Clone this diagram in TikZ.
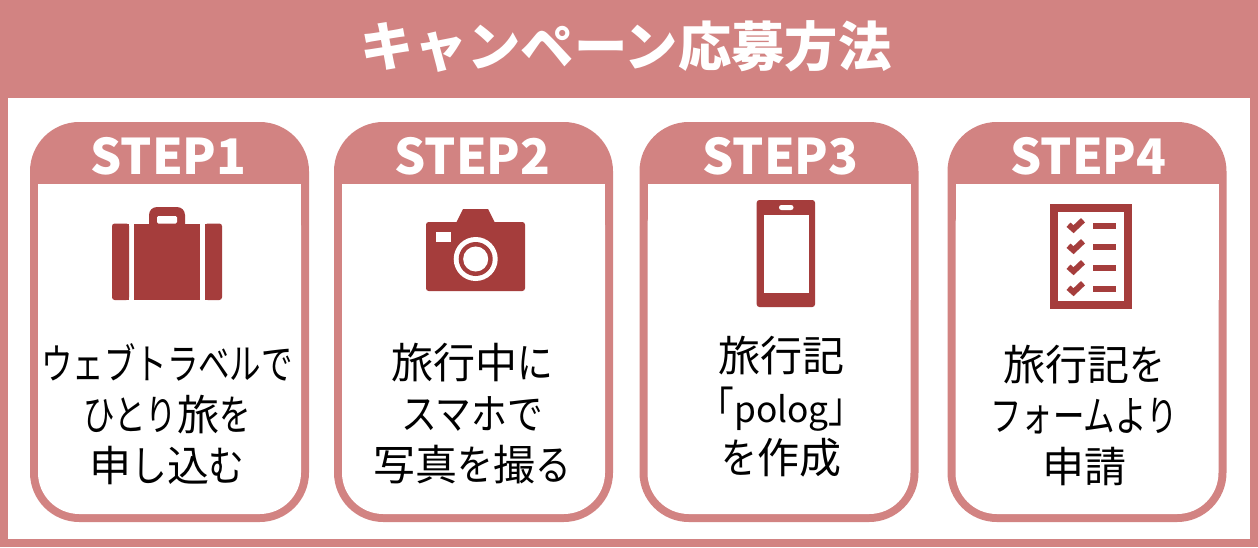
\documentclass[tikz,border=0pt]{standalone}
\usepackage{fontspec}
\setmainfont{Noto Sans CJK JP}
\newfontfamily\narrowkana[FakeStretch=0.75]{Noto Sans CJK JP}
\newfontfamily\midkana[FakeStretch=0.85]{Noto Sans CJK JP}
\newcommand{\kna}[1]{{\narrowkana #1}}
\newcommand{\knb}[1]{{\midkana #1}}
\definecolor{rosecol}{RGB}{210,131,130}
\definecolor{darkcol}{RGB}{165,61,60}
\tikzset{
  cardbox/.style={fill=rosecol,rounded corners=37pt,minimum width=209.25pt,minimum height=300pt,inner sep=0pt},
  headtext/.style={inner sep=0pt,text=white,font=\fontsize{36.8}{40}\selectfont\bfseries},
  steptext/.style={align=center,inner sep=0pt,font=\fontsize{31.5}{38.25}\selectfont},
  icon/.style={fill=darkcol}
}
\begin{document}
\begin{tikzpicture}[x=0.75pt,y=-0.75pt]
\useasboundingbox (0,0) rectangle (1258,547);
% frame and title
\fill[rosecol] (0,0) rectangle (1258,547);
\fill[white] (8,98) rectangle (1250,539);
\node[text=white,inner sep=0pt,font=\fontsize{40}{44}\selectfont\bfseries] (title) at (626,46) {キャンペーン応募方法};
% cards
\foreach \n/\x/\hx/\lab in {1/169.5/168.5/STEP1,2/473.5/472.5/STEP2,3/779/780.5/STEP3,4/1087/1088.5/STEP4}{
  \node[cardbox] (card\n) at (\x,322) {};
  \fill[white,rounded corners=31pt] (\x-131.5,184) rectangle (\x+131.5,514);
  \fill[white] (\x-131.5,184) rectangle (\x+131.5,300);
  \node[headtext] (head\n) at (\hx,156) {\lab};
}
% suitcase
\fill[icon,rounded corners=2pt] (112,223.5) rectangle (129,300);
\fill[icon,rounded corners=2pt] (205,223.5) rectangle (222,300);
\fill[icon] (120,223.5) rectangle (129,300);
\fill[icon] (205,223.5) rectangle (214,300);
\fill[icon] (134,223.5) rectangle (200,300);
\fill[icon,rounded corners=6pt] (149,235) -- (149,207) -- (185,207) -- (185,235) -- cycle;
\fill[white,rounded corners=1pt] (157,216) rectangle (177,223.5);
% camera
\fill[icon,rounded corners=2pt] (426,222) rectangle (525,291);
\fill[icon] (456,223) -- (463,209) -- (488,209) -- (495,223) -- cycle;
\fill[white] (436,232) rectangle (451,242);
\fill[white] (475.7,259) circle (16.5pt);
\fill[icon] (475.7,259) circle (12.75pt);
\fill[white] (475.7,259) circle (9.4pt);
% phone
\fill[icon,rounded corners=2pt] (756.7,200) rectangle (815,307);
\fill[white] (764,214.5) rectangle (808.5,292.5);
\fill[white,rounded corners=1.8pt] (779,205) rectangle (793.5,210);
% checklist
\draw[darkcol,line width=6pt] (1053.5,207.5) rectangle (1127.5,304.5);
\foreach \y in {225.7,246.7,267.7,288.7}{
  \draw[darkcol,line width=4.4pt] (1068.5,\y-1) -- (1073.5,\y+3.5) -- (1083,\y-5.5);
  \fill[icon] (1093,\y-3) rectangle (1116,\y+3);
}
% texts
\node[steptext] (text1) at (167,414) {\kna{ウェブトラベルで}\\\kna{ひとり}旅\kna{を}\\申\knb{し}込\knb{む}};
\node[steptext] (text2) at (472,414) {旅行中\knb{に}\\\knb{スマホで}\\写真\knb{を}撮\knb{る}};
\node[steptext] (text3) at (781.5,407) {旅行記\\\knb{「}{\fontsize{26.5}{38.25}\selectfont polog}\knb{」}\\\knb{を}作成};
\node[steptext] (text4) at (1084,415) {旅行記\knb{を}\\\kna{フォームより}\\申請};
\end{tikzpicture}
\end{document}
